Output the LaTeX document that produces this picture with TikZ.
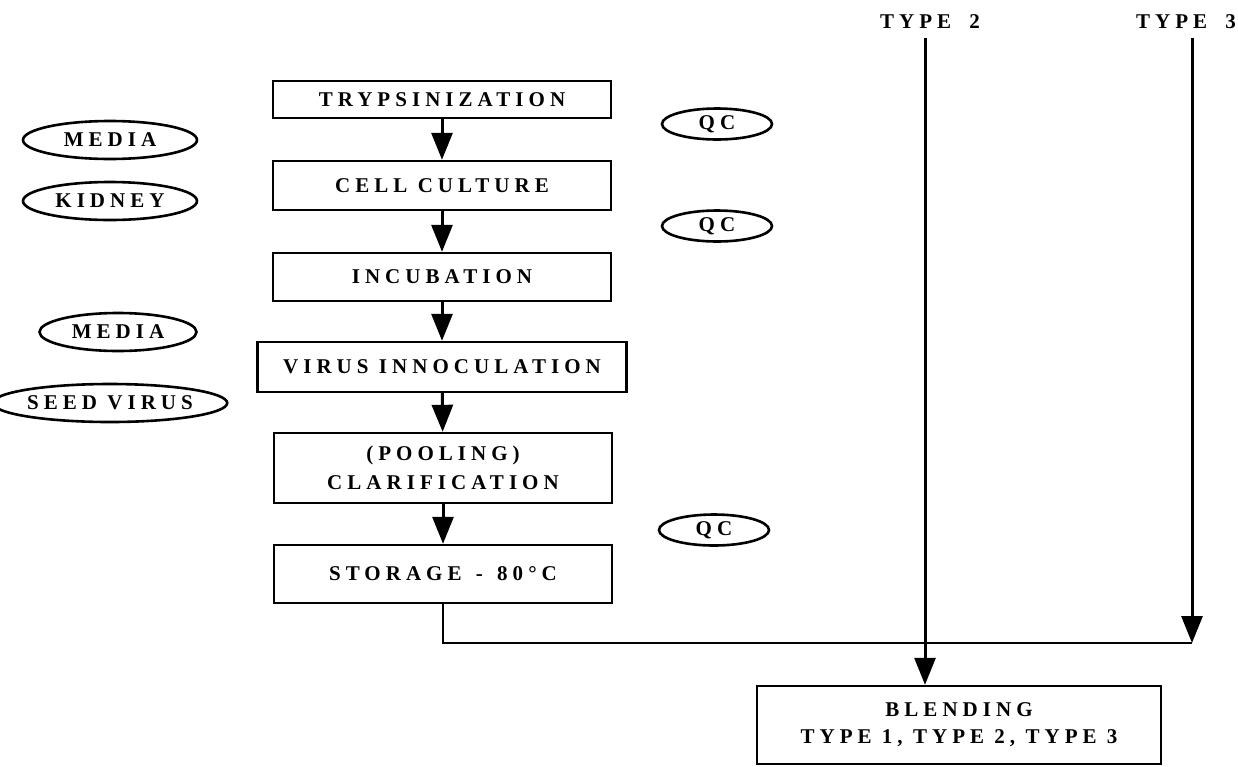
\documentclass[tikz,border=0pt]{standalone}
\usepackage{fontspec}
\setmainfont{Liberation Serif}
\usetikzlibrary{arrows.meta,shapes.geometric}
\newfontfamily\spaced[LetterSpace=24]{Liberation Serif}
\begin{document}
\begin{tikzpicture}[x=1pt,y=-1pt,
  every node/.style={font=\spaced\bfseries\fontsize{21}{24}\selectfont, inner sep=0pt},
  stepbox/.style={draw, line width=2.4pt, rectangle, minimum width=338pt, align=center},
  inbox/.style={draw, line width=2.6pt, ellipse, minimum height=38pt},
  qcbox/.style={draw, line width=2.6pt, ellipse, minimum width=110pt, minimum height=31pt},
  flow/.style={line width=3pt, -{Triangle[width=21pt,length=27pt]}},
  plain/.style={line width=2.4pt}]
\useasboundingbox (0,0) rectangle (1238,766);
\clip (0,0) rectangle (1238,766);

% main process column
\node[stepbox, minimum height=37pt] (tryp) at (442,99.5) {TRYPSINIZATION};
\node[stepbox, minimum height=49pt] (cell) at (442,185.5) {CELL CULTURE};
\node[stepbox, minimum height=48pt] (incu) at (442,277) {INCUBATION};
\node[stepbox, minimum width=369pt, minimum height=50pt] (viru) at (442,367) {VIRUS INNOCULATION};
\node[stepbox, minimum height=70pt] (pool) at (443,468) {(POOLING)\\[5pt]CLARIFICATION};
\node[stepbox, minimum height=58pt] (stor) at (443,574) {STORAGE\hspace{4pt} -\hspace{4pt} 80°C};
\node[stepbox, minimum width=404pt, minimum height=78pt] (blen) at (959,725) {BLENDING\\[3pt]TYPE 1, TYPE 2, TYPE 3};

% inputs
\node[inbox, minimum width=174pt] (med1) at (110,140) {MEDIA};
\node[inbox, minimum width=174pt] (kidn) at (110,201) {KIDNEY};
\node[inbox, minimum width=157pt] (med2) at (118,332) {MEDIA};
\node[inbox, minimum width=205pt] (seed) at (110,403) {SEED VIRUS};

% quality control
\node[qcbox] (qc1) at (717,124) {QC};
\node[qcbox] (qc2) at (717,226) {QC};
\node[qcbox] (qc3) at (714,530) {QC};

% other virus types
\node (lab2) at (930,22) {TYPE\hspace{8pt} 2};
\node (lab3) at (1186,22) {TYPE\hspace{8pt} 3};
\coordinate (t2top) at (925,38);
\coordinate (t3top) at (1192,38);
\coordinate (join) at (1192,643);

% connectors
\draw[flow] (tryp) -- (cell);
\draw[flow] (cell) -- (incu);
\draw[flow] (incu) -- (viru);
\draw[flow] (viru) -- (pool);
\draw[flow] (pool) -- (stor);
\draw[plain] (stor.south) |- (join);
\draw[flow] (t3top) -- (join);
\draw[flow] (t2top) -- (t2top |- blen.north);
\end{tikzpicture}
\end{document}
